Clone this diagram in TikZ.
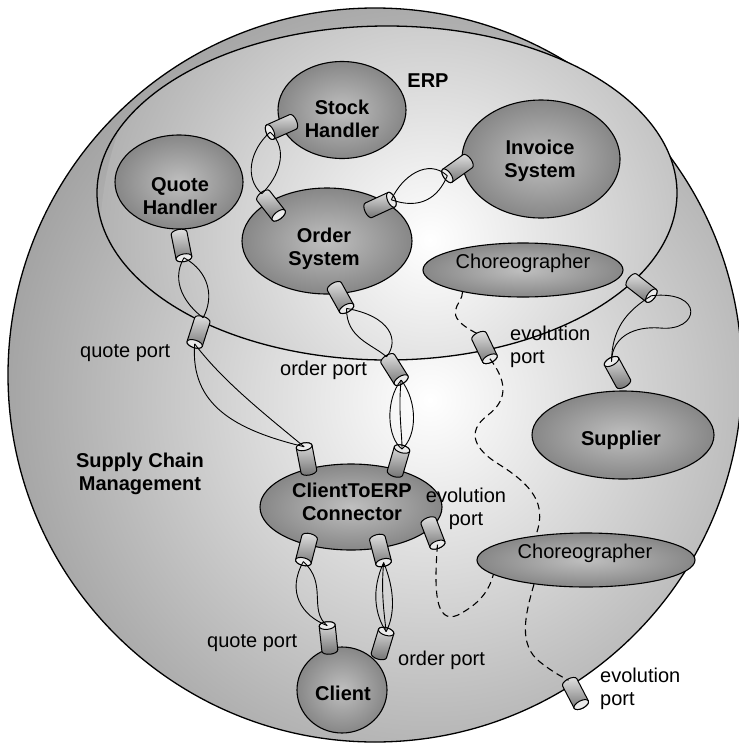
\documentclass[tikz,border=0pt]{standalone}
\usepackage{fontspec}
\setmainfont{Liberation Sans}
\usetikzlibrary{shapes.geometric}
\newcommand\myfs{\fontsize{20}{23}\selectfont}
\begin{document}
\begin{tikzpicture}[x=1pt,y=-1pt,
 comp/.style={ellipse, draw, line width=1.1pt, inner color=black!25, outer color=black!47, inner sep=0pt},
 ctext/.style={font=\myfs\bfseries, align=center, inner sep=0pt},
 rtext/.style={font=\myfs, align=center, inner sep=0pt},
 lbl/.style={font=\myfs, inner sep=0pt},
 btext/.style={font=\myfs\bfseries, inner sep=0pt},
 wire/.style={line width=0.9pt},
 evo/.style={line width=1.1pt, dash pattern=on 7pt off 4.5pt},
 port/.pic={
  \draw[line width=1pt, top color=black!12, bottom color=black!55] (-12.5,-8) -- (12.5,-8) arc[start angle=-90,end angle=90,x radius=3.8,y radius=8] -- (-12.5,8) arc[start angle=90,end angle=270,x radius=3.8,y radius=8] -- cycle;
  \filldraw[line width=1pt, fill=black!8] (12.5,0) ellipse[x radius=3.8,y radius=8];
  \coordinate (-open) at (12.5,0);
  \coordinate (-base) at (-15,0);
 }]
\useasboundingbox (0,0) rectangle (739,745);
\fill[white] (0,0) rectangle (739,745);
% Supply chain circle
\begin{scope}
 \clip (375,375) circle[radius=367pt];
 \shade[inner color=white, outer color=black!36] (430,400) circle[radius=430pt];
\end{scope}
\draw[line width=1.3pt] (375,375) circle[radius=367pt];
% ERP ellipse
\begin{scope}
 \clip (387,193) ellipse[x radius=290,y radius=167];
 \shade[inner color=white, outer color=black!30] (430,240) circle[radius=330pt];
\end{scope}
\draw[line width=1.3pt] (387,193) ellipse[x radius=290,y radius=167];

% components
\node[comp, minimum width=128pt, minimum height=97pt] (stock) at (342,110) {};
\node[ctext] (stockt) at (342,119) {Stock\\Handler};
\node[comp, minimum width=128pt, minimum height=94pt] (quote) at (179,182) {};
\node[ctext] (quotet) at (180,196) {Quote\\Handler};
\node[comp, minimum width=170pt, minimum height=106pt] (order) at (327,241) {};
\node[ctext] (ordert) at (324,249) {Order\\System};
\node[comp, minimum width=158pt, minimum height=118pt] (invoice) at (541,159) {};
\node[ctext] (invoicet) at (540,161) {Invoice\\System};
\node[comp, minimum width=200pt, minimum height=54pt] (chor1) at (523,270) {};
\node[rtext] (chor1t) at (523,263) {Choreographer};
\node[comp, minimum width=182pt, minimum height=88pt] (supplier) at (623,435) {};
\node[ctext] (suppliert) at (621,440) {Supplier};
\node[comp, minimum width=218pt, minimum height=54pt] (chor2) at (586,560) {};
\node[rtext] (chor2t) at (585,553) {Choreographer};
\node[comp, minimum width=182pt, minimum height=86pt] (c2e) at (351,507) {};
\node[ctext] (c2et) at (352,502) {ClientToERP\\Connector};
\node[comp, minimum width=90pt, minimum height=86pt] (client) at (342,690) {};
\node[ctext] (clientt) at (343,693) {Client};

% ports
\pic[rotate=204] (p1) at (281.5,127) {port};
\pic[rotate=-51.9] (p2) at (271,205.5) {port};
\pic[rotate=24.8] (p3) at (380,205) {port};
\pic[rotate=215.5] (p4) at (457.5,168.5) {port};
\pic[rotate=-78.7] (p5) at (181.5,245.5) {port};
\pic[rotate=-107.8] (p6) at (198.5,332) {port};
\pic[rotate=-60.9] (p7) at (340.5,297.5) {port};
\pic[rotate=-57.8] (p8) at (394.5,369.5) {port};
\pic[rotate=100.9] (p9) at (306.5,459) {port};
\pic[rotate=73.7] (p10) at (398.5,461) {port};
\pic[rotate=-104.5] (p11) at (306.5,549.5) {port};
\pic[rotate=-75.5] (p12) at (380.5,550.5) {port};
\pic[rotate=-69] (p13) at (433,533) {port};
\pic[rotate=96.1] (p14) at (328.5,638) {port};
\pic[rotate=73.1] (p15) at (382.5,643.5) {port};
\pic[rotate=-38] (p16) at (641.5,288) {port};
\pic[rotate=118.7] (p17) at (617.5,372.5) {port};
\pic[rotate=-64.3] (p18) at (484.5,347.5) {port};
\pic[rotate=-62.5] (p19) at (575.5,693.5) {port};

% wires
\draw[wire] (p1-open) .. controls (250,150) and (244,178) .. (p2-base);
\draw[wire] (p1-open) .. controls (290,150) and (278,178) .. (p2-base);
\draw[wire] (p3-open) .. controls (402,176) and (428,158) .. (p4-open);
\draw[wire] (p3-open) .. controls (420,210) and (438,198) .. (p4-open);
\draw[wire] (p5-open) .. controls (170,282) and (186,305) .. (p6-base);
\draw[wire] (p5-open) .. controls (210,272) and (214,298) .. (p6-base);
\draw[wire] (p6-open) .. controls (190,405) and (235,430) .. (p9-open);
\draw[wire] (p6-open) .. controls (222,380) and (262,412) .. (p9-open);
\draw[wire] (p7-open) .. controls (346,338) and (372,344) .. (p8-base);
\draw[wire] (p7-open) .. controls (390,316) and (400,340) .. (p8-base);
\draw[wire] (p8-open) .. controls (385,400) and (387,438) .. (p10-open);
\draw[wire] (p8-open) .. controls (398,410) and (402,432) .. (p10-open);
\draw[wire] (p8-open) .. controls (418,402) and (417,436) .. (p10-open);
\draw[wire] (p11-open) .. controls (286,592) and (302,616) .. (p14-open);
\draw[wire] (p11-open) .. controls (328,584) and (308,610) .. (p14-open);
\draw[wire] (p12-open) .. controls (371,590) and (375,615) .. (p15-open);
\draw[wire] (p12-open) .. controls (381,592) and (384,612) .. (p15-open);
\draw[wire] (p12-open) .. controls (395,590) and (395,615) .. (p15-open);
\draw[wire] (p16-open) .. controls (705,290) and (700,332) .. (660,328) .. controls (635,326) and (612,336) .. (p17-open);
\draw[wire] (p16-open) .. controls (625,312) and (612,330) .. (p17-open);

% evolution links
\draw[evo] (chor1.200) .. controls (463,305) and (438,314) .. (p18-base);
\draw[evo] (p18-open) .. controls (510,385) and (505,402) .. (488,415) .. controls (465,432) and (475,450) .. (500,465) .. controls (540,490) and (545,510) .. (chor2.154);
\draw[evo] (p13-open) .. controls (434,590) and (435,625) .. (458,615) .. controls (475,606) and (488,595) .. (chor2.189);
\draw[evo] (chor2.205) .. controls (525,615) and (518,645) .. (540,662) .. controls (550,670) and (560,676) .. (p19-base);

% labels
\node[btext, anchor=base] (erp) at (428,87) {ERP};
\node[lbl, anchor=base west] (qp1) at (80,357) {quote port};
\node[lbl, anchor=base west] (op1) at (280,375) {order port};
\node[lbl, anchor=north west, align=left] (ev1) at (510,326) {evolution\\port};
\node[btext, anchor=north, align=center] (scm) at (140,453) {Supply Chain\\Management};
\node[lbl, anchor=north, align=center] (ev2) at (466,488) {evolution\\port};
\node[lbl, anchor=base west] (qp2) at (207,647) {quote port};
\node[lbl, anchor=base west] (op2) at (398,665) {order port};
\node[lbl, anchor=north west, align=left] (ev3) at (600,668) {evolution\\port};
\end{tikzpicture}
\end{document}
